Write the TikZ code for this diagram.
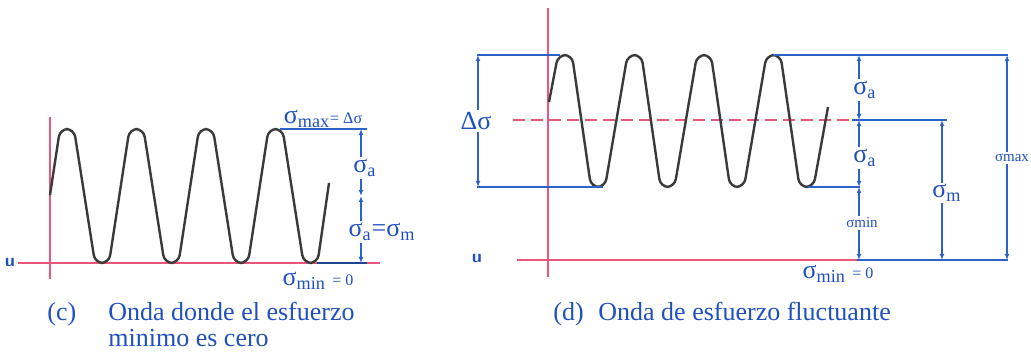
\documentclass[tikz,border=0pt]{standalone}
\usepackage{fontspec}
\setmainfont{Liberation Serif}
\usetikzlibrary{arrows.meta}
\definecolor{axisred}{HTML}{E8577A}
\definecolor{dimblue}{HTML}{2B63C9}
\definecolor{textblue}{HTML}{2050C0}
\definecolor{waveink}{HTML}{3A3A3A}
\newcommand{\sig}[1]{σ\textsubscript{#1}}
\tikzset{
    axisline/.style={draw=axisred, line width=0.6pt},
    midline/.style={draw=axisred, line width=0.6pt, dash pattern=on 6pt off 3pt},
    wave/.style={draw=waveink, line width=1.2pt, rounded corners=4pt},
    refline/.style={draw=dimblue, line width=0.7pt},
    dimline/.style={draw=dimblue, line width=0.7pt,
        {Latex[length=3pt,width=2.4pt]}-{Latex[length=3pt,width=2.4pt]}},
    lbl/.style={text=textblue, inner sep=1pt, font=\fontsize{13}{13}\selectfont},
    cutlbl/.style={lbl, fill=white},
    smalllbl/.style={text=textblue, inner sep=1pt, fill=white, font=\fontsize{7.5}{7.5}\selectfont},
    caption/.style={text=textblue, anchor=base west, inner sep=0pt, font=\fontsize{13}{13}\selectfont}
}

\begin{document}
\begin{tikzpicture}[x=0.5pt, y=-0.5pt]
    \useasboundingbox (0,0) rectangle (1031,356);

    % (c) zero minimum stress
    \draw[axisline] (50,117) -- (50,279);
    \draw[axisline] (18,263) -- (380,263);
    \node[lbl, font=\sffamily\small\bfseries] (uc) at (10,262) {u};
    \draw[wave] (50,195) \foreach \k in {0,...,3} {
        -- ({60+69.5*\k},129) -- ({74+69.5*\k},129)
        -- ({95+69.5*\k},263) -- ({109+69.5*\k},263) } -- (329,183);

    \coordinate (cmax) at (361,129);
    \coordinate (cmid) at (361,196);
    \coordinate (cmin) at (361,263);
    \draw[refline] (280,129) -- (367,129);
    \draw[refline, draw=dimblue!70!black] (317,263) -- (367,263);
    \draw[dimline] (cmax) -- (cmid);
    \draw[dimline] (cmid) -- (cmin);
    \node[cutlbl] (ca) at (365,168) {\sig{a}};
    \node[cutlbl] (cam) at (382,232) {\sig{a}=\sig{m}};
    \node[lbl] (cmaxlbl) at (323,119) {σ\textsubscript{max}{\footnotesize= Δσ}};
    \node[lbl] (cminlbl) at (318,281) {σ\textsubscript{min} {\footnotesize= 0}};

    % (d) fluctuating stress
    \draw[axisline] (548,8) -- (548,277);
    \draw[axisline] (517,260) -- (860,260);
    \draw[midline] (513,120) -- (852,120);
    \node[lbl, font=\sffamily\small\bfseries] (ud) at (477,258) {u};
    \draw[wave] (549,102) \foreach \k in {0,...,3} {
        -- ({558+69.5*\k},55) -- ({572+69.5*\k},55)
        -- ({591+69.5*\k},187) -- ({605+69.5*\k},187) } -- (828,107);

    \coordinate (dtop) at (859,55);
    \coordinate (dmid) at (859,120);
    \coordinate (dlow) at (859,187);
    \coordinate (dbot) at (859,260);
    \coordinate (mtop) at (942,120);
    \coordinate (mbot) at (942,260);
    \coordinate (xtop) at (1007,55);
    \coordinate (xbot) at (1007,260);
    \coordinate (ltop) at (478,55);
    \coordinate (lbot) at (478,187);
    \draw[refline] (477,55) -- (560,55);
    \draw[refline] (773,55) -- (1008,55);
    \draw[refline] (477,187) -- (603,187);
    \draw[refline] (808,187) -- (860,187);
    \draw[refline] (852,120) -- (947,120);
    \draw[refline] (857,260) -- (1008,260);

    \draw[dimline] (ltop) -- (lbot);
    \draw[dimline] (dtop) -- (dmid);
    \draw[dimline] (dmid) -- (dlow);
    \draw[dimline] (dlow) -- (dbot);
    \draw[dimline] (mtop) -- (mbot);
    \draw[dimline] (xtop) -- (xbot);

    \node[cutlbl] (dds) at (476,121) {Δσ};
    \node[cutlbl] (da1) at (865,90) {\sig{a}};
    \node[cutlbl] (da2) at (865,158) {\sig{a}};
    \node[smalllbl] (dmin) at (862,223) {σmin};
    \node[cutlbl] (dm) at (947,193) {\sig{m}};
    \node[smalllbl] (dmax) at (1012,158) {σmax};
    \node[lbl] (dminlbl) at (838,274) {σ\textsubscript{min} {\footnotesize= 0}};

    % captions
    \node[caption] (capc) at (47,321) {(c)};
    \node[caption] (capc1) at (108,321) {Onda donde el esfuerzo};
    \node[caption] (capc2) at (108,347) {minimo es cero};
    \node[caption] (capd) at (553,321) {(d)};
    \node[caption] (capd1) at (598,321) {Onda de esfuerzo fluctuante};
\end{tikzpicture}
\end{document}
